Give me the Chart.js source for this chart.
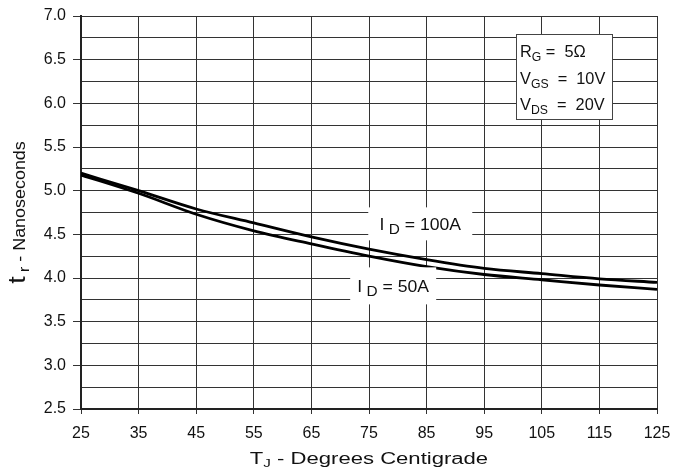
<!DOCTYPE html>
<html lang="en">
<head>
  <meta charset="utf-8">
  <title>Rise time vs junction temperature</title>
  <script src="https://cdn.jsdelivr.net/npm/chart.js"></script>
  <style>
    html, body { margin: 0; padding: 0; background: #fff; }
    #wrap { width: 674px; height: 470px; }
  </style>
</head>
<body>
  <div id="wrap"><canvas id="chart" width="674" height="470"></canvas></div>

  <script>
    // values
    const temps = [25, 35, 45, 55, 65, 75, 85, 95, 105, 115, 125];
    const tr100A = [5.20, 5.00, 4.79, 4.63, 4.47, 4.33, 4.21, 4.11, 4.05, 3.99, 3.95];
    const tr50A  = [5.18, 4.97, 4.73, 4.54, 4.39, 4.25, 4.13, 4.04, 3.98, 3.92, 3.87];
    const xTicks = [25, 35, 45, 55, 65, 75, 85, 95, 105, 115, 125];
    const yMin = 2.5, yMax = 7.0;

    const FONT = '"Liberation Sans", Arial, sans-serif';
    const isMajor = v => Math.abs(v * 2 - Math.round(v * 2)) < 1e-6;

    // draws a run of [text, size, dy] pieces at x,y stretched by sx, returns width
    function drawParts(ctx, parts, x, y, sx, measureOnly) {
      let w = 0;
      ctx.save();
      ctx.translate(x, y);
      ctx.scale(sx, 1);
      parts.forEach(p => {
        ctx.font = p[1] + 'px ' + FONT;
        if (!measureOnly) ctx.fillText(p[0], w, p[2] || 0);
        w += ctx.measureText(p[0]).width;
      });
      ctx.restore();
      return w * sx;
    }

    const labelBoxes = [
      { x: 83.9, y: 4.62, w: 104, h: 33, parts: [['I', 16], [' D', 14, 4], [' = 100A', 16]] },
      { x: 79.2, y: 3.91, w: 86, h: 37, parts: [['I', 16], [' D', 14, 4], [' = 50A', 16]] }
    ];

    const legendLines = [
      [['R', 16], ['G', 12, 4], [' =  5Ω', 16]],
      [['V', 16], ['GS', 12, 4], ['  =  10V', 16]],
      [['V', 16], ['DS', 12, 4], ['  =  20V', 16]]
    ];

    const decorPlugin = {
      id: 'decor',
      afterDatasetsDraw(chart) {
        const ctx = chart.ctx;
        const area = chart.chartArea;
        const xs = chart.scales.x, ys = chart.scales.y;
        ctx.save();
        ctx.textBaseline = 'alphabetic';
        ctx.textAlign = 'left';

        // curve labels
        labelBoxes.forEach(b => {
          const cx = xs.getPixelForValue(b.x), cy = ys.getPixelForValue(b.y);
          ctx.fillStyle = '#fff';
          ctx.fillRect(cx - b.w / 2, cy - b.h / 2, b.w, b.h);
          ctx.fillStyle = '#111';
          const tw = drawParts(ctx, b.parts, 0, 0, 1.1, true);
          drawParts(ctx, b.parts, cx - tw / 2, cy + 6, 1.1);
        });

        // conditions box
        const bx = area.right - 141, by = area.top + 18, bw = 96, bh = 85;
        ctx.fillStyle = '#fff';
        ctx.fillRect(bx, by, bw, bh);
        ctx.strokeStyle = '#444';
        ctx.lineWidth = 1;
        ctx.strokeRect(bx + 0.5, by + 0.5, bw, bh);
        ctx.fillStyle = '#111';
        legendLines.forEach((ln, i) => drawParts(ctx, ln, bx + 4, by + 23 + i * 26.5, 1.02));

        // x title
        const xParts = [['T', 16], ['J', 11, 3], [' - Degrees Centigrade', 16]];
        const xw = drawParts(ctx, xParts, 0, 0, 1.38, true);
        drawParts(ctx, xParts, (area.left + area.right) / 2 - xw / 2, 464, 1.38);

        // y title
        const yParts = [['t', 24], [' r', 14, 4], [' - Nanoseconds', 16]];
        const yw = drawParts(ctx, yParts, 0, 0, 1.12, true);
        ctx.translate(25, (area.top + area.bottom) / 2);
        ctx.rotate(-Math.PI / 2);
        drawParts(ctx, yParts, -yw / 2, 0, 1.12);
        ctx.restore();
      }
    };

    new Chart(document.getElementById('chart'), {
      type: 'line',
      data: {
        labels: temps,
        datasets: [
          { label: 'ID = 100A', data: temps.map((t, i) => ({ x: t, y: tr100A[i] })) },
          { label: 'ID = 50A', data: temps.map((t, i) => ({ x: t, y: tr50A[i] })) }
        ].map(d => Object.assign(d, {
          borderColor: '#000',
          borderWidth: 2.8,
          pointRadius: 0,
          fill: false,
          cubicInterpolationMode: 'monotone'
        }))
      },
      plugins: [decorPlugin],
      options: {
        responsive: false,
        animation: false,
        layout: { padding: { left: 0, right: 17, top: 16, bottom: 0 } },
        plugins: { legend: { display: false }, tooltip: { enabled: false } },
        scales: {
          x: {
            type: 'linear',
            min: 25, max: 125,
            afterBuildTicks: s => { s.ticks = xTicks.map(v => ({ value: v })); },
            afterFit: s => { s.height = 61; s.paddingLeft = 0; s.paddingRight = 0; },
            grid: { color: '#333', lineWidth: 1, tickLength: 5, tickColor: '#333' },
            border: { color: '#222', width: 2 },
            ticks: {
              color: '#111', padding: 10, maxRotation: 0, autoSkip: false,
              font: { family: FONT, size: 16 }
            }
          },
          y: {
            min: yMin, max: yMax,
            afterFit: s => { s.width = 81; s.paddingTop = 0; s.paddingBottom = 0; },
            grid: {
              color: '#333', lineWidth: 1, tickLength: 8,
              tickColor: c => (c.tick && isMajor(c.tick.value)) ? '#333' : 'rgba(0,0,0,0)'
            },
            border: { color: '#222', width: 2 },
            ticks: {
              stepSize: 0.25, color: '#111', padding: 7, autoSkip: false,
              font: { family: FONT, size: 16 },
              callback: v => isMajor(v) ? v.toFixed(1) : ''
            }
          }
        }
      }
    });
  </script>
</body>
</html>
